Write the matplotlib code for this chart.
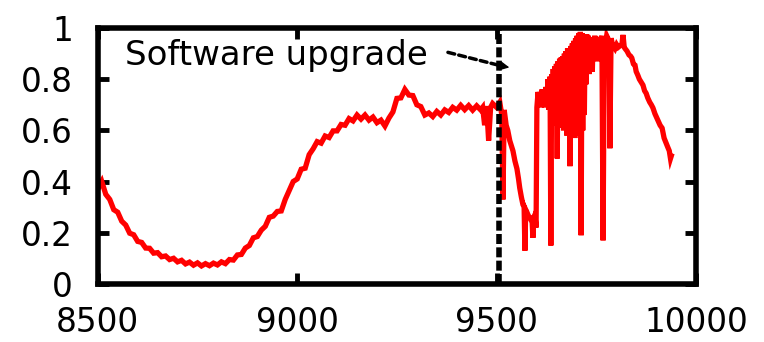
import matplotlib.pyplot as plt

plt.rcParams['font.family'] = ['DejaVu Sans']

# smooth part before the upgrade (x step 10)
x_before = list(range(8500, 9470, 10)) + [9465, 9470, 9475, 9480, 9485, 9490, 9500]
x_before = sorted(set(x_before))
y_before = [0.37, 0.40, 0.35, 0.33, 0.29, 0.28, 0.245, 0.23, 0.198, 0.192,
            0.166, 0.162, 0.140, 0.139, 0.12, 0.122, 0.106, 0.109, 0.095, 0.10,
            0.086, 0.092, 0.078, 0.085, 0.073, 0.082, 0.07, 0.079, 0.071, 0.081,
            0.074, 0.086, 0.079, 0.095, 0.093, 0.113, 0.115, 0.14, 0.15, 0.18,
            0.185, 0.21, 0.225, 0.26, 0.265, 0.283, 0.285, 0.33, 0.365, 0.40,
            0.41, 0.448, 0.452, 0.505, 0.528, 0.556, 0.55, 0.578, 0.572, 0.598,
            0.598, 0.623, 0.62, 0.646, 0.637, 0.66, 0.644, 0.66, 0.64, 0.652,
            0.63, 0.64, 0.617, 0.648, 0.672, 0.725, 0.727, 0.76, 0.738, 0.736,
            0.70, 0.693, 0.66, 0.668, 0.654, 0.674, 0.66, 0.68, 0.67, 0.69,
            0.679, 0.698, 0.681, 0.697, 0.679, 0.696, 0.68,
            0.69, 0.62, 0.695, 0.56, 0.69, 0.705, 0.69]

# after the upgrade: the drop
x_drop = [9508, 9513, 9516, 9519, 9524, 9528, 9533, 9538, 9541, 9546,
          9551, 9555, 9558, 9562, 9566, 9569, 9571, 9573, 9576, 9580,
          9583, 9586, 9589, 9591, 9593, 9596, 9599]
y_drop = [0.71, 0.66, 0.33, 0.68, 0.62, 0.60, 0.56, 0.535, 0.52, 0.48,
          0.45, 0.41, 0.375, 0.34, 0.31, 0.30, 0.13, 0.29, 0.28, 0.265,
          0.26, 0.25, 0.246, 0.18, 0.26, 0.27, 0.22]

# dense, spiky recovery
x_spiky = [9601, 9604, 9606, 9609, 9611, 9614, 9616, 9619, 9621, 9624,
           9626, 9629, 9631, 9634, 9636, 9638, 9640, 9642, 9644, 9646,
           9648, 9650, 9652, 9654, 9656, 9658, 9660, 9662, 9664, 9666,
           9668, 9670, 9672, 9674, 9676, 9678, 9680, 9682, 9684, 9686,
           9688, 9690, 9692, 9694, 9696, 9698, 9700, 9702, 9704, 9706,
           9708, 9710, 9712, 9714, 9716, 9718, 9720, 9722, 9724, 9726,
           9728, 9730, 9732, 9734, 9736, 9738, 9740, 9742, 9744, 9746,
           9748, 9750, 9752, 9754, 9756, 9758, 9761, 9764, 9767, 9770,
           9773, 9776, 9779, 9782, 9784, 9787, 9790, 9793]
y_spiky = [0.69, 0.75, 0.70, 0.75, 0.69, 0.76, 0.70, 0.76, 0.69, 0.77,
           0.70, 0.80, 0.68, 0.81, 0.15, 0.82, 0.66, 0.84, 0.64, 0.85,
           0.62, 0.86, 0.49, 0.87, 0.63, 0.88, 0.61, 0.885, 0.62, 0.89,
           0.60, 0.90, 0.61, 0.91, 0.58, 0.92, 0.60, 0.92, 0.46, 0.93,
           0.59, 0.94, 0.60, 0.95, 0.57, 0.96, 0.60, 0.97, 0.58, 0.98,
           0.59, 0.985, 0.19, 0.98, 0.60, 0.975, 0.66, 0.97, 0.78, 0.975,
           0.84, 0.97, 0.82, 0.96, 0.86, 0.96, 0.83, 0.965, 0.88, 0.97,
           0.90, 0.965, 0.87, 0.96, 0.92, 0.965, 0.93, 0.97, 0.17, 0.96,
           0.94, 0.97, 0.96, 0.95, 0.53, 0.96, 0.94, 0.93]

# falling tail
x_tail = [9797, 9801, 9805, 9809, 9814, 9817, 9820, 9822, 9827, 9832,
          9836, 9839, 9843, 9847, 9850, 9854, 9858, 9862, 9867, 9871,
          9875, 9879, 9884, 9888, 9892, 9897, 9902, 9906, 9910, 9915,
          9918, 9920, 9925, 9929, 9933, 9936, 9938]
y_tail = [0.92, 0.935, 0.925, 0.93, 0.934, 0.973, 0.925, 0.92, 0.91, 0.895,
          0.89, 0.883, 0.86, 0.855, 0.83, 0.816, 0.80, 0.79, 0.777, 0.755,
          0.745, 0.727, 0.71, 0.70, 0.688, 0.665, 0.648, 0.635, 0.62, 0.609,
          0.585, 0.57, 0.55, 0.535, 0.52, 0.49, 0.50]

upgrade_x = 9507
x_ticks = [8500, 9000, 9500, 10000]
y_ticks = [0, 0.2, 0.4, 0.6, 0.8, 1]
y_tick_labels = ['0', '0.2', '0.4', '0.6', '0.8', '1']

fig = plt.figure(figsize=(7.64, 3.42), dpi=100)
ax = fig.add_axes([0.128, 0.170, 0.783, 0.748])

xs = x_before + x_drop + x_spiky + x_tail
ys = y_before + y_drop + y_spiky + y_tail
ax.plot(xs, ys, color='#ff0000', lw=3.8, solid_joinstyle='miter')
ax.axvline(upgrade_x, color='black', lw=4, ls=(0, (1.8, 0.6)))

ax.text(8568, 0.855, 'Software upgrade', fontsize=24.5, va='baseline')
ax.annotate('', xy=(9512, 0.852), xytext=(9378, 0.905),
            arrowprops=dict(arrowstyle='-', linestyle=(0, (2, 1.2)), lw=2.5,
                            color='black', shrinkA=0, shrinkB=0))
ax.annotate('', xy=(9532, 0.846), xytext=(9508, 0.853),
            arrowprops=dict(arrowstyle='-|>', lw=1, color='black',
                            mutation_scale=14, shrinkA=0, shrinkB=0))

ax.set_xlim(8500, 10000)
ax.set_ylim(0, 1)
ax.set_xticks(x_ticks)
ax.set_yticks(y_ticks)
ax.set_yticklabels(y_tick_labels)
ax.tick_params(direction='in', length=8, width=3.5, top=True, right=True,
               labelsize=23.5)
ax.tick_params(axis='y', pad=18)
ax.tick_params(axis='x', pad=16)
for s in ax.spines.values():
    s.set_linewidth(4)

fig.savefig('out.png', dpi=100)
